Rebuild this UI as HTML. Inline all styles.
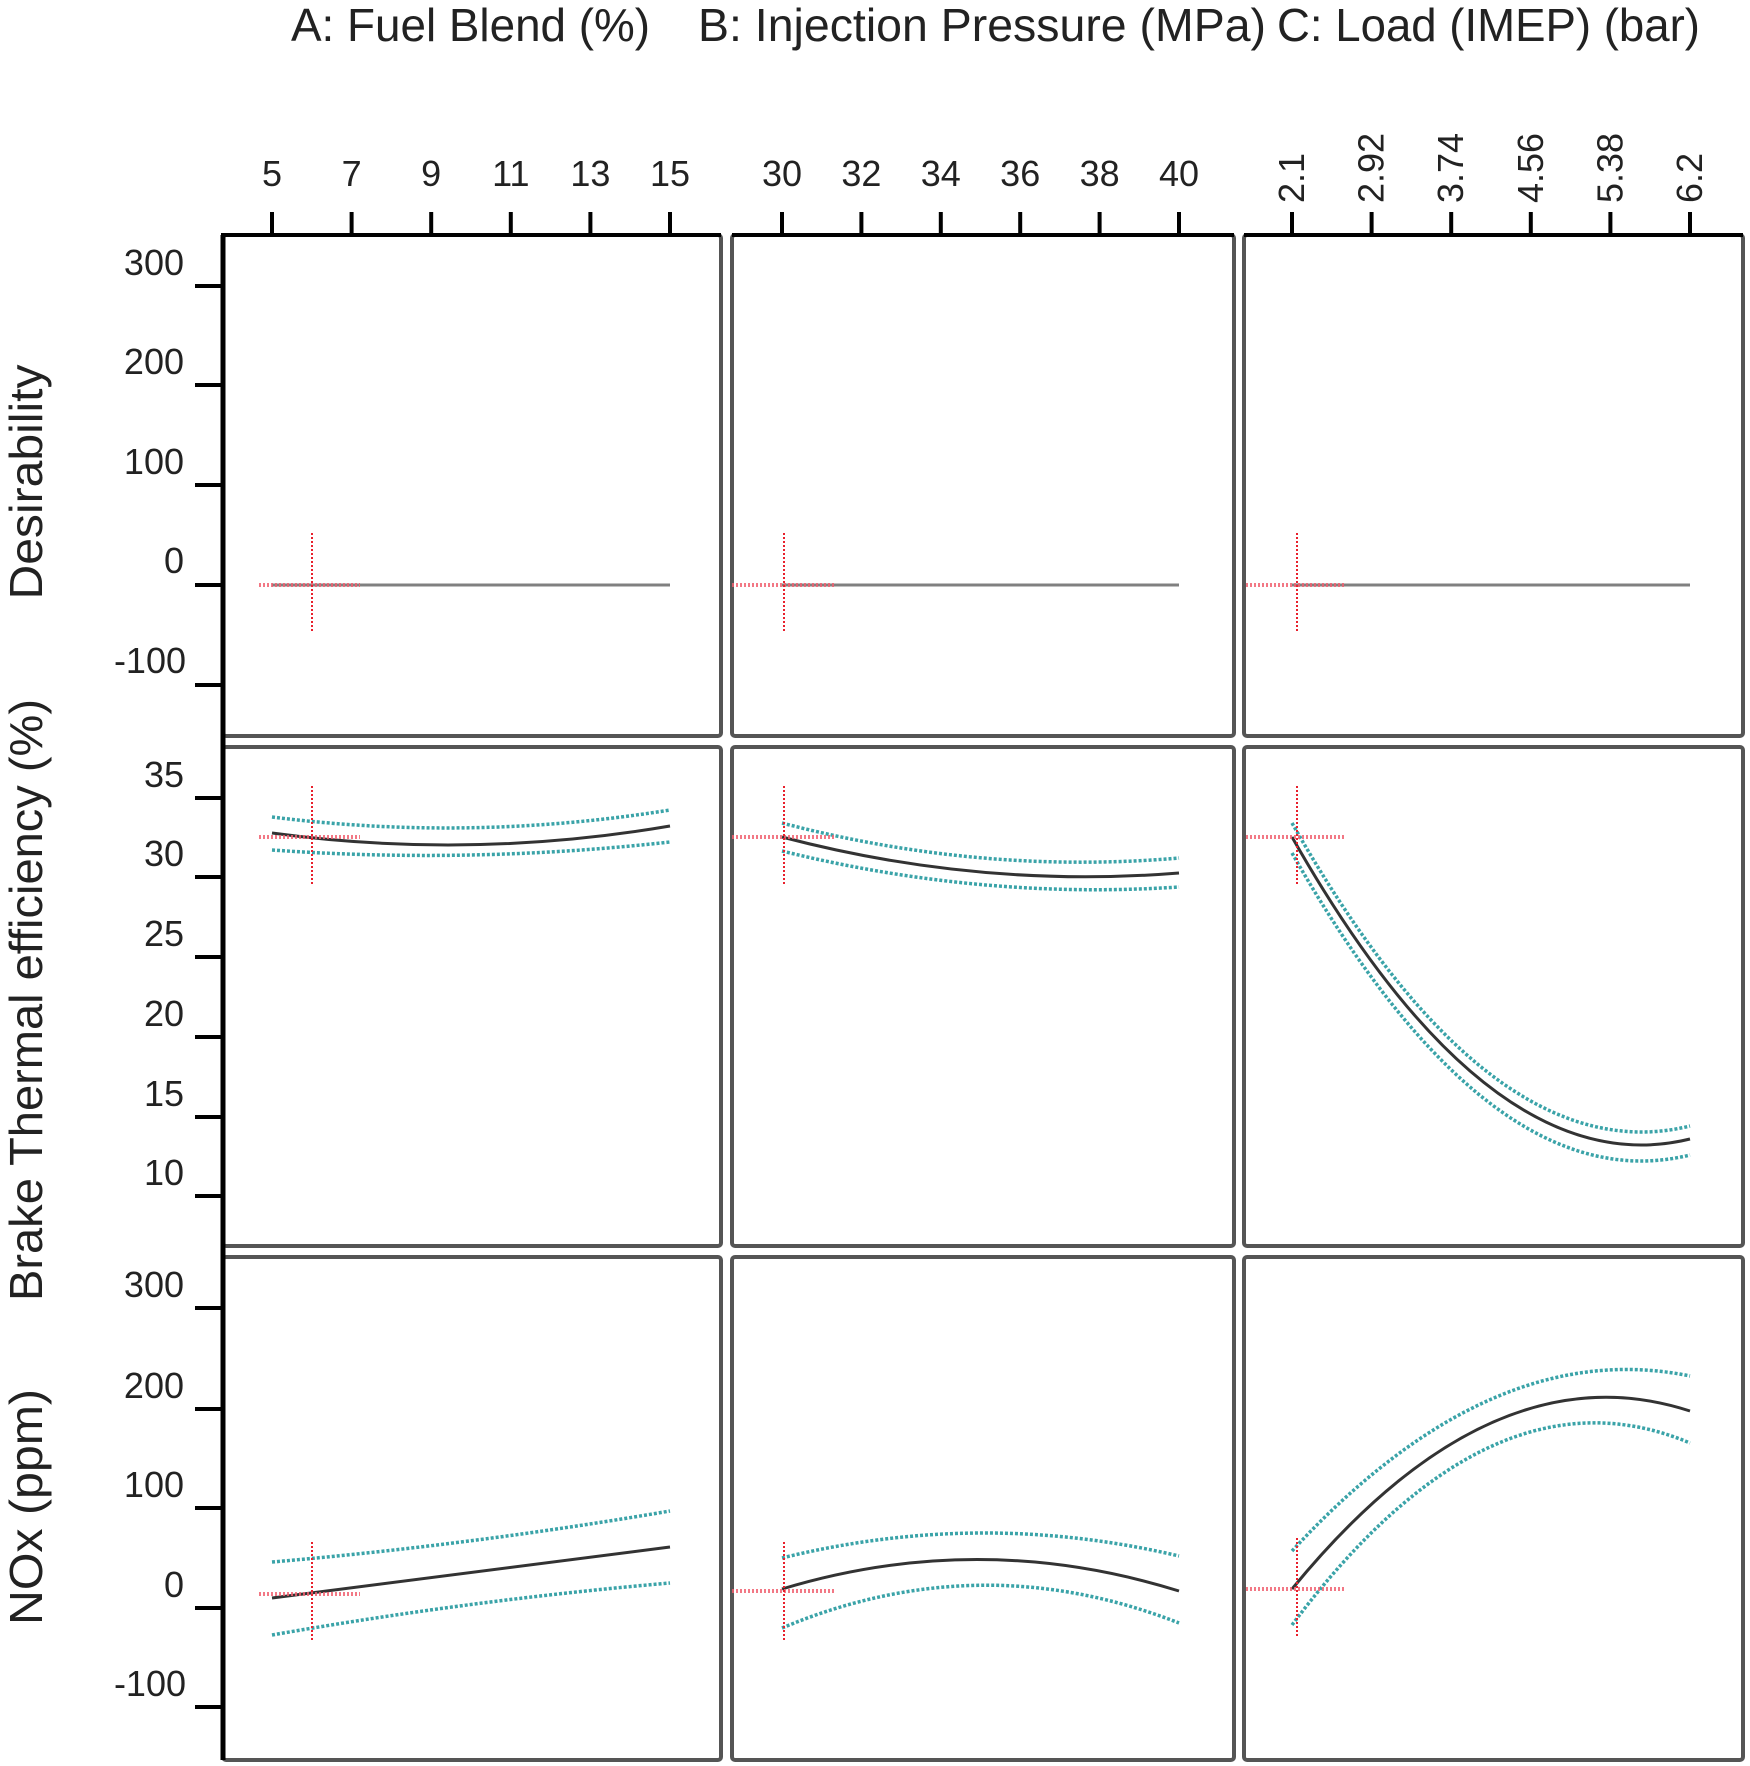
<!DOCTYPE html>
<html><head><meta charset="utf-8"><style>html,body{margin:0;padding:0;background:#fff}svg{display:block}</style></head>
<body>
<svg width="1750" height="1766" viewBox="0 0 1750 1766" xmlns="http://www.w3.org/2000/svg" font-family="Liberation Sans, sans-serif" fill="#222">
<text x="291" y="41" font-size="46" textLength="359" lengthAdjust="spacingAndGlyphs">A: Fuel Blend (%)</text>
<text x="698" y="41" font-size="46" textLength="568" lengthAdjust="spacingAndGlyphs">B: Injection Pressure (MPa)</text>
<text x="1277" y="41" font-size="46" textLength="423" lengthAdjust="spacingAndGlyphs">C: Load (IMEP) (bar)</text>

<text transform="translate(42,482) rotate(-90)" font-size="46" text-anchor="middle" textLength="235" lengthAdjust="spacingAndGlyphs">Desirability</text>
<text transform="translate(42,1000) rotate(-90)" font-size="46" text-anchor="middle" textLength="602" lengthAdjust="spacingAndGlyphs">Brake Thermal efficiency (%)</text>
<text transform="translate(42,1507) rotate(-90)" font-size="46" text-anchor="middle" textLength="236" lengthAdjust="spacingAndGlyphs">NOx (ppm)</text>

<g fill="none" stroke="#555" stroke-width="4">
<rect x="223" y="235" width="498" height="501" rx="3"/>
<rect x="732" y="235" width="502" height="501" rx="3"/>
<rect x="1244" y="235" width="499" height="501" rx="3"/>
<rect x="223" y="747" width="498" height="499" rx="3"/>
<rect x="732" y="747" width="502" height="499" rx="3"/>
<rect x="1244" y="747" width="499" height="499" rx="3"/>
<rect x="223" y="1257" width="498" height="503" rx="3"/>
<rect x="732" y="1257" width="502" height="503" rx="3"/>
<rect x="1244" y="1257" width="499" height="503" rx="3"/>
</g>
<g stroke="#000" stroke-width="4">
<line x1="223" y1="235" x2="223" y2="1760" stroke-width="5"/>
<line x1="221" y1="235" x2="721" y2="235"/>
<line x1="732" y1="235" x2="1234" y2="235"/>
<line x1="1244" y1="235" x2="1743" y2="235"/>
<line x1="272" y1="212" x2="272" y2="235"/><line x1="351.6" y1="212" x2="351.6" y2="235"/><line x1="431.2" y1="212" x2="431.2" y2="235"/><line x1="510.8" y1="212" x2="510.8" y2="235"/><line x1="590.4" y1="212" x2="590.4" y2="235"/><line x1="670" y1="212" x2="670" y2="235"/>
<line x1="782" y1="212" x2="782" y2="235"/><line x1="861.4" y1="212" x2="861.4" y2="235"/><line x1="940.8" y1="212" x2="940.8" y2="235"/><line x1="1020.2" y1="212" x2="1020.2" y2="235"/><line x1="1099.6" y1="212" x2="1099.6" y2="235"/><line x1="1179" y1="212" x2="1179" y2="235"/>
<line x1="1292" y1="212" x2="1292" y2="235"/><line x1="1371.6" y1="212" x2="1371.6" y2="235"/><line x1="1451.2" y1="212" x2="1451.2" y2="235"/><line x1="1530.8" y1="212" x2="1530.8" y2="235"/><line x1="1610.4" y1="212" x2="1610.4" y2="235"/><line x1="1690" y1="212" x2="1690" y2="235"/>
<line x1="195" y1="286" x2="223" y2="286"/><line x1="195" y1="385" x2="223" y2="385"/><line x1="195" y1="485" x2="223" y2="485"/><line x1="195" y1="585" x2="223" y2="585"/><line x1="195" y1="685" x2="223" y2="685"/>
<line x1="195" y1="798" x2="223" y2="798"/><line x1="195" y1="877" x2="223" y2="877"/><line x1="195" y1="957" x2="223" y2="957"/><line x1="195" y1="1037" x2="223" y2="1037"/><line x1="195" y1="1117" x2="223" y2="1117"/><line x1="195" y1="1196" x2="223" y2="1196"/>
<line x1="195" y1="1308" x2="223" y2="1308"/><line x1="195" y1="1409" x2="223" y2="1409"/><line x1="195" y1="1508" x2="223" y2="1508"/><line x1="195" y1="1608" x2="223" y2="1608"/><line x1="195" y1="1707" x2="223" y2="1707"/>
</g>
<g font-size="36" text-anchor="middle">
<text x="272" y="186">5</text><text x="351.6" y="186">7</text><text x="431.2" y="186">9</text><text x="510.8" y="186">11</text><text x="590.4" y="186">13</text><text x="670" y="186">15</text>
<text x="782" y="186">30</text><text x="861.4" y="186">32</text><text x="940.8" y="186">34</text><text x="1020.2" y="186">36</text><text x="1099.6" y="186">38</text><text x="1179" y="186">40</text>
</g>
<g font-size="36" text-anchor="start">
<text transform="translate(1304,203) rotate(-90)">2.1</text>
<text transform="translate(1383.6,203) rotate(-90)">2.92</text>
<text transform="translate(1463.2,203) rotate(-90)">3.74</text>
<text transform="translate(1542.8,203) rotate(-90)">4.56</text>
<text transform="translate(1622.4,203) rotate(-90)">5.38</text>
<text transform="translate(1702,203) rotate(-90)">6.2</text>
</g>
<g font-size="36" text-anchor="end">
<text x="184" y="275">300</text><text x="184" y="374">200</text><text x="184" y="474">100</text><text x="184" y="573">0</text><text x="186" y="673">-100</text>
<text x="184" y="787">35</text><text x="184" y="866">30</text><text x="184" y="946">25</text><text x="184" y="1026">20</text><text x="184" y="1106">15</text><text x="184" y="1185">10</text>
<text x="184" y="1297">300</text><text x="184" y="1398">200</text><text x="184" y="1497">100</text><text x="184" y="1597">0</text><text x="186" y="1696">-100</text>
</g>

<g stroke="#808080" stroke-width="3" fill="none">
<line x1="272" y1="585" x2="670" y2="585"/>
<line x1="782" y1="585" x2="1179" y2="585"/>
<line x1="1292" y1="585" x2="1690" y2="585"/>
</g>

<g stroke="#3aa3a8" stroke-width="3.5" fill="none" stroke-dasharray="3 2">
<path d="M272 817 Q471 842 670 810"/>
<path d="M272 850 Q471 864 670 842"/>
<path d="M782 823 Q980 875 1179 858"/>
<path d="M782 851 Q980 900 1179 887"/>
<path d="M1292 823 Q1491 1175 1690 1126"/>
<path d="M1292 853 Q1491 1204 1690 1155"/>
<path d="M272 1562 Q471 1545 670 1511"/>
<path d="M272 1635 Q471 1600 670 1583"/>
<path d="M782 1558 Q980 1509 1179 1556"/>
<path d="M782 1628 Q980 1545 1179 1623"/>
<path d="M1292 1551 Q1491 1335 1690 1376"/>
<path d="M1292 1625 Q1491 1359 1690 1443"/>
</g>
<g stroke="#333" stroke-width="3" fill="none">
<path d="M272 833 Q471 860 670 826"/>
<path d="M782 837 Q980 889 1179 873"/>
<path d="M1292 837 Q1491 1188 1690 1139"/>
<path d="M272 1598 L670 1547"/>
<path d="M782 1589 Q980 1529 1179 1591"/>
<path d="M1292 1589 Q1491 1346 1690 1411"/>
</g>

<g stroke="#f06070" stroke-width="4" stroke-dasharray="2 2" fill="none" opacity="0.85">
<line x1="259" y1="585" x2="360" y2="585"/>
<line x1="732" y1="585" x2="834" y2="585"/>
<line x1="1246" y1="585" x2="1346" y2="585"/>
<line x1="259" y1="837" x2="360" y2="837"/>
<line x1="732" y1="837" x2="834" y2="837"/>
<line x1="1246" y1="837" x2="1346" y2="837"/>
<line x1="259" y1="1594" x2="360" y2="1594"/>
<line x1="732" y1="1591" x2="834" y2="1591"/>
<line x1="1246" y1="1589" x2="1346" y2="1589"/>
</g>
<g stroke="#e8202c" stroke-width="2" stroke-dasharray="2 2" fill="none">
<line x1="312" y1="533" x2="312" y2="633"/>
<line x1="784" y1="533" x2="784" y2="633"/>
<line x1="1297" y1="533" x2="1297" y2="633"/>
<line x1="312" y1="786" x2="312" y2="886"/>
<line x1="784" y1="786" x2="784" y2="886"/>
<line x1="1297" y1="786" x2="1297" y2="886"/>
<line x1="312" y1="1542" x2="312" y2="1642"/>
<line x1="784" y1="1542" x2="784" y2="1642"/>
<line x1="1297" y1="1538" x2="1297" y2="1638"/>
</g>
</svg>
</body></html>
